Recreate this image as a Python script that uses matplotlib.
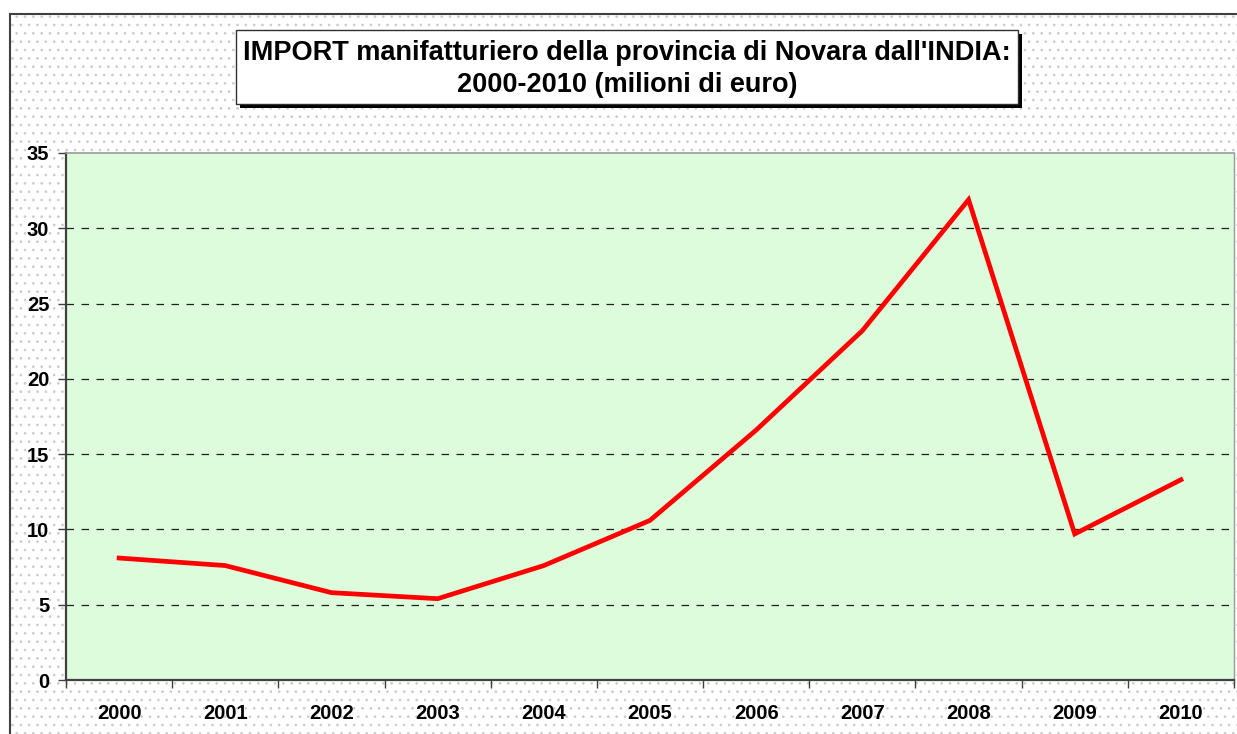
import matplotlib.pyplot as plt
import matplotlib.patches as mpatches
import numpy as np

plt.rcParams.update({
    'font.family': ['Liberation Sans', 'DejaVu Sans'],
    'font.weight': 'bold',
    'hatch.color': '#cccccc',
    'hatch.linewidth': 0.7,
})

years = ['2000', '2001', '2002', '2003', '2004', '2005',
         '2006', '2007', '2008', '2009', '2010']
import_mln = [8.1, 7.6, 5.8, 5.4, 7.6, 10.6, 16.6, 23.2, 31.9, 9.7, 13.3]
y_ticks = [0, 5, 10, 15, 20, 25, 30, 35]

W, H = 1237, 734
fig = plt.figure(figsize=(W / 100, H / 100), dpi=100)
fig.patch.set_facecolor('white')

# outer chart frame with dotted pattern
frame = mpatches.Rectangle((10 / W, 0), 1.2, (H - 14) / H, transform=fig.transFigure,
                           facecolor='white', edgecolor='#cccccc', hatch='..',
                           linewidth=0, zorder=-2)
fig.patches.append(frame)
border = mpatches.Rectangle((10 / W, -0.1), 1.2, (H - 14) / H + 0.1, transform=fig.transFigure,
                            facecolor='none', edgecolor='#404040', linewidth=1.5, zorder=-1)
fig.patches.append(border)

ax = fig.add_axes([66 / W, (H - 680) / H, (1234 - 66) / W, (680 - 153) / H])
ax.set_facecolor('#dcfcdc')

x = np.arange(len(years))
ax.plot(x, import_mln, color='#ff0000', linewidth=3.4, solid_joinstyle='miter', zorder=3)

ax.set_xlim(-0.5, len(years) - 0.5)
ax.set_ylim(0, 35)
ax.set_yticks(y_ticks)
ax.set_yticklabels([str(t) for t in y_ticks], fontsize=14.5, fontweight='bold')
ax.set_xticks(x)
ax.set_xticklabels(years, fontsize=14.5, fontweight='bold')
ax.tick_params(axis='x', which='major', length=0, pad=17)
ax.set_xticks(np.arange(-0.5, len(years)), minor=True)
ax.tick_params(axis='x', which='minor', length=6, width=1, color='#404040', direction='out')
ax.tick_params(axis='y', length=6, width=1, color='#404040', direction='out', pad=6)

for t in y_ticks[1:-1]:
    ax.axhline(t, color='#202020', linestyle=(0, (6, 6)), linewidth=0.9, zorder=1)

for s in ['left', 'bottom']:
    ax.spines[s].set_color('#404040')
    ax.spines[s].set_linewidth(1.6)
ax.spines['top'].set_color('#9a9a9a')
ax.spines['top'].set_linewidth(1.2)
ax.spines['right'].set_color('#9a9a9a')
ax.spines['right'].set_linewidth(1.0)

# title box with shadow
bx0, by0, bx1, by1 = 236, 30, 1018, 104
shadow = mpatches.Rectangle(((bx0 + 4) / W, (H - by1 - 4) / H), (bx1 - bx0) / W, (by1 - by0) / H,
                            transform=fig.transFigure, facecolor='black', edgecolor='black',
                            linewidth=0, zorder=2)
box = mpatches.Rectangle((bx0 / W, (H - by1) / H), (bx1 - bx0) / W, (by1 - by0) / H,
                         transform=fig.transFigure, facecolor='white', edgecolor='#303030',
                         linewidth=1.0, zorder=3)
fig.patches.extend([shadow, box])
fig.text((bx0 + bx1) / 2 / W, (H - (by0 + by1) / 2 - 2) / H,
         "IMPORT manifatturiero della provincia di Novara dall'INDIA:\n2000-2010 (milioni di euro)",
         ha='center', va='center', fontsize=19.5, fontweight='bold', linespacing=1.25, zorder=4)

fig.savefig('out.png', dpi=100)
